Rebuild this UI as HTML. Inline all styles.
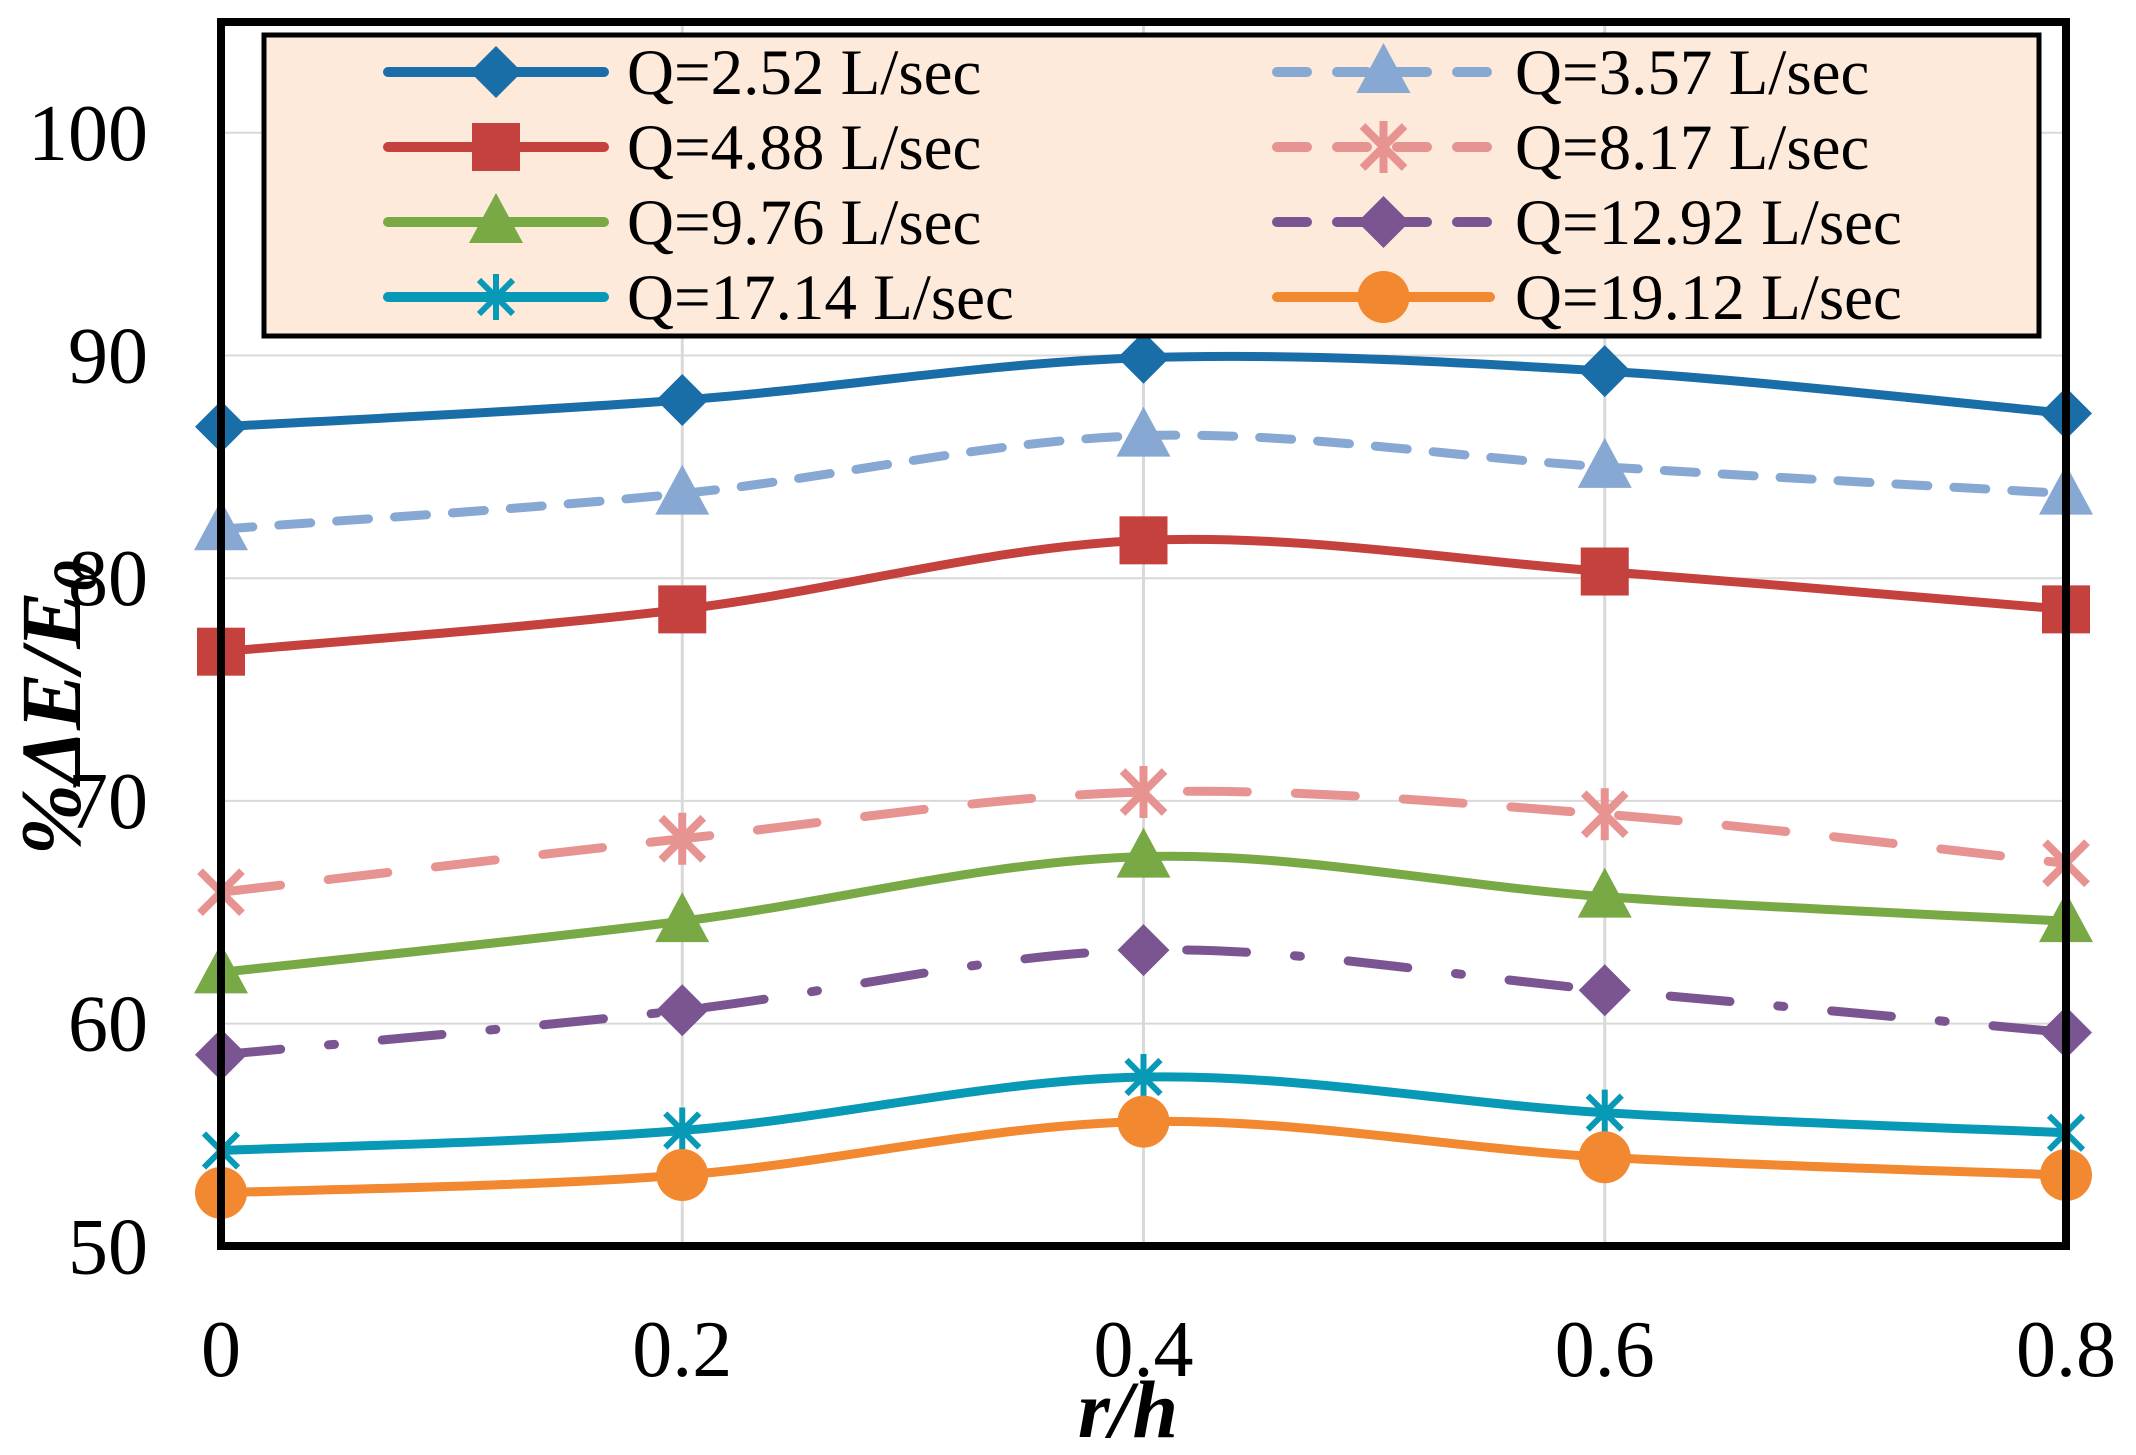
<!DOCTYPE html>
<html><head><meta charset="utf-8"><style>
html,body{margin:0;padding:0;background:#fff}
svg{display:block}
text{font-family:"Liberation Serif",serif;fill:#000}
</style></head><body>
<svg width="2136" height="1455" viewBox="0 0 2136 1455">
<g id="grid"></g>
<g id="series"></g>
<rect x="221" y="22" width="1845" height="1224" fill="none" stroke="#000" stroke-width="8"/>
<g id="ticks"></g>
<text x="1128" y="1437" font-size="82" font-weight="bold" font-style="italic" text-anchor="middle">r/h</text>
<text transform="translate(80,708) rotate(-90)" font-size="86" font-weight="bold" font-style="italic" text-anchor="middle">%ΔE/E<tspan font-size="62" dy="16">0</tspan></text>
<rect x="264" y="35" width="1775" height="301" fill="#fdeadb" stroke="#000" stroke-width="5"/>
<g id="legend"></g>
</svg>
<script>
const categories=[0,0.2,0.4,0.6,0.8];
const xTicks=["0","0.2","0.4","0.6","0.8"];
const yTicks=[50,60,70,80,90,100];
const names=["Q=2.52 L/sec","Q=3.57 L/sec","Q=4.88 L/sec","Q=8.17 L/sec","Q=9.76 L/sec","Q=12.92 L/sec","Q=17.14 L/sec","Q=19.12 L/sec"];
const s1=[86.8,88.0,89.9,89.3,87.4];
const s2=[82.2,83.8,86.4,85.0,83.8];
const s3=[76.7,78.6,81.7,80.3,78.6];
const s4=[65.9,68.3,70.4,69.4,67.2];
const s5=[62.3,64.6,67.5,65.7,64.6];
const s6=[58.6,60.6,63.3,61.5,59.6];
const s7=[54.3,55.2,57.6,56.0,55.1];
const s8=[52.4,53.2,55.6,54.0,53.2];
const data=[s1,s2,s3,s4,s5,s6,s7,s8];
const colors=["#1a6ea8","#86a8d2","#c4413e","#e69392","#78a944","#7a5592","#0799b5","#f2882f"];
const dashes=["","32 26","","60 48","","60 48 6 48","",""];
const markers=["diamond","triangle","square","star","triangle","diamond","asterisk","circle"];
const NS="http://www.w3.org/2000/svg";
const X=v=>221+v/0.8*1845;
const Y=v=>132.8+(100-v)*22.27;
function mk(tag,attrs,parent){const e=document.createElementNS(NS,tag);for(const k in attrs)e.setAttribute(k,attrs[k]);parent.appendChild(e);return e;}
const grid=document.getElementById('grid');
yTicks.forEach(t=>{const l=mk('line',{x1:221,x2:2066,y1:Y(t),y2:Y(t),stroke:'#d9d9d9','stroke-width':2},grid);});
categories.forEach(c=>{const l=mk('line',{x1:X(c),x2:X(c),y1:22,y2:1246,stroke:'#d9d9d9','stroke-width':3},grid);});
const ticks=document.getElementById('ticks');
yTicks.forEach(t=>{const e=mk('text',{x:148,y:Y(t)+27,'font-size':80,'text-anchor':'end'},ticks);e.textContent=t;});
categories.forEach((c,i)=>{const e=mk('text',{x:X(c),y:1376,'font-size':80,'text-anchor':'middle'},ticks);e.textContent=xTicks[i];});
function smooth(pts){let d=`M${pts[0][0]},${pts[0][1]}`;for(let i=0;i<pts.length-1;i++){const p0=pts[i-1]||pts[i],p1=pts[i],p2=pts[i+1],p3=pts[i+2]||p2;const c1=[p1[0]+(p2[0]-p0[0])/6,p1[1]+(p2[1]-p0[1])/6],c2=[p2[0]-(p3[0]-p1[0])/6,p2[1]-(p3[1]-p1[1])/6];d+=` C${c1[0]},${c1[1]} ${c2[0]},${c2[1]} ${p2[0]},${p2[1]}`;}return d;}
function marker(type,x,y,col,parent){let e;const r=26;
if(type==='diamond')e=mk('polygon',{points:`${x},${y-r} ${x+r},${y} ${x},${y+r} ${x-r},${y}`,fill:col},parent);
else if(type==='square')e=mk('rect',{x:x-24,y:y-24,width:48,height:48,fill:col},parent);
else if(type==='triangle')e=mk('polygon',{points:`${x},${y-29} ${x+27},${y+21} ${x-27},${y+21}`,fill:col},parent);
else if(type==='circle')e=mk('circle',{cx:x,cy:y,r:26,fill:col},parent);
else if(type==='star'){e=mk('path',{d:`M${x-21},${y-21}L${x+21},${y+21}M${x+21},${y-21}L${x-21},${y+21}M${x},${y-26}L${x},${y+26}`,stroke:col,'stroke-width':8,fill:'none'},parent);}
else {e=mk('path',{d:`M${x-17},${y-17}L${x+17},${y+17}M${x+17},${y-17}L${x-17},${y+17}M${x},${y-23}L${x},${y+23}`,stroke:col,'stroke-width':6,fill:'none'},parent);}
return e;}
const sg=document.getElementById('series');
data.forEach((s,i)=>{const g=mk('g',{},sg);
const pts=s.map((v,j)=>[X(categories[j]),Y(v)]);
const p=mk('path',{d:smooth(pts),fill:'none',stroke:colors[i],'stroke-width':9,'stroke-linecap':'round','stroke-dasharray':dashes[i]},g);

pts.forEach(pt=>{const m=marker(markers[i],pt[0],pt[1],colors[i],g);});});
const lg=document.getElementById('legend');
names.forEach((n,i)=>{const col=i%2,row=Math.floor(i/2);const y=72+row*75;const x1=col?1277:388,x2=col?1490:604,tx=col?1515:627;
const g=mk('g',{},lg);
mk('line',{x1:x1,x2:x2,y1:y,y2:y,stroke:colors[i],'stroke-width':10,'stroke-linecap':'round','stroke-dasharray':dashes[i]?'30 30':''},g);
marker(markers[i],(x1+x2)/2,y,colors[i],g);
const t=mk('text',{x:tx,y:y+22,'font-size':65},g);t.textContent=n;});
</script>
</body></html>
